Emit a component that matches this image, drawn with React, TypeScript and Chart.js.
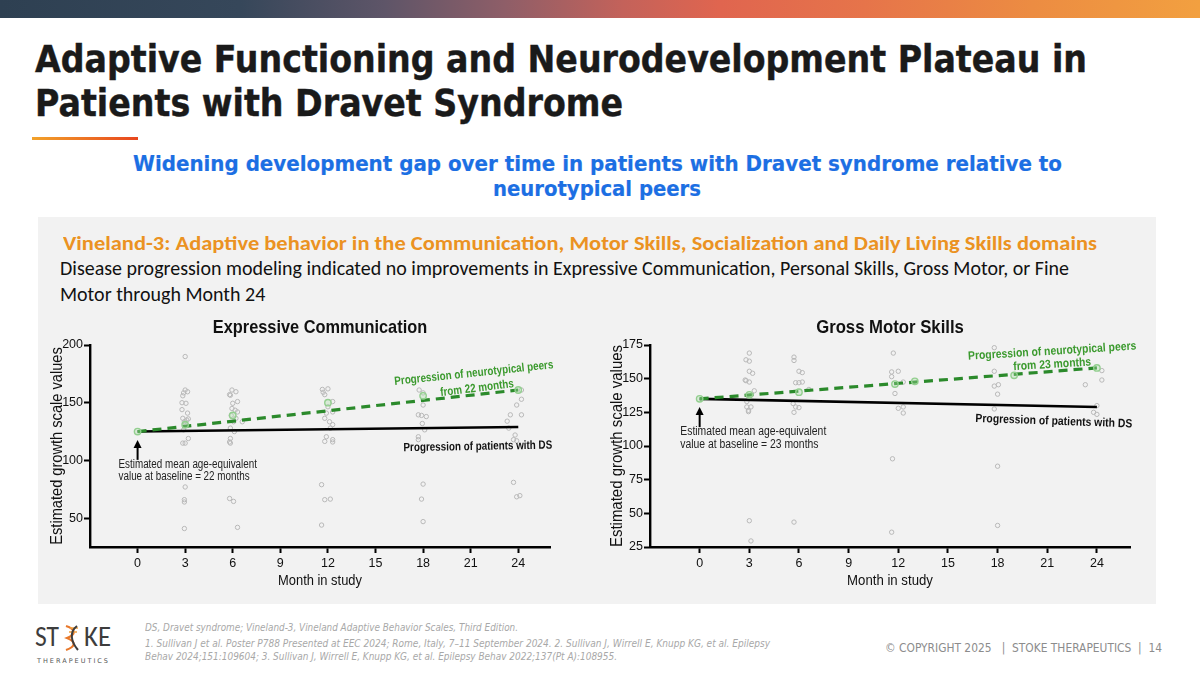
import React, { useEffect, useLayoutEffect, useRef } from "react";
import { Chart, registerables } from "chart.js";
Chart.register(...registerables);

// ---------- DATA ----------
const monthTicks = [0, 3, 6, 9, 12, 15, 18, 21, 24];
const ecYTicks = [50, 100, 150, 200];
const gmYTicks = [25, 50, 75, 100, 125, 150, 175];
const lineMonths = [0, 24];

const ecPeersLine = [125, 161];
const ecDSLine = [125, 129];
const gmPeersLine = [135, 158];
const gmDSLine = [135, 129];

const ecMeans: [number, number][] = [[0, 125], [3, 131], [6, 139], [12, 150], [18, 156], [24, 161]];
const gmMeans: [number, number][] = [[0, 135], [3, 138], [6, 140], [11.8, 146], [13, 148], [19, 152.5], [24, 158]];

const ecObserved: [number, number][] = [
  [3.0, 190], [3.0, 161], [3.15, 159.5], [2.9, 158.5], [2.85, 156], [2.8, 150], [3.05, 149.5], [2.8, 144], [3.15, 141], [2.85, 136.5], [3.1, 135], [2.95, 133.5], [3.2, 136], [3.0, 131], [2.9, 126.5], [3.2, 119], [2.85, 115], [3.0, 115], [3.0, 77], [2.95, 66], [2.95, 64], [2.95, 41],
  [5.95, 161], [6.2, 159.5], [5.8, 157], [5.85, 156.5], [6.3, 151], [6.0, 149.5], [5.95, 145], [6.15, 143.5], [6.3, 142], [5.9, 139], [6.2, 136.5], [6.05, 133.5], [6.6, 133.5], [5.85, 128], [6.1, 125], [5.85, 119], [5.8, 116], [5.85, 115], [5.8, 67], [6.05, 64.5], [6.3, 42],
  [11.65, 161.5], [12.0, 162], [11.7, 159], [11.8, 157], [12.3, 151], [12.0, 146.5], [12.3, 142], [11.9, 141], [11.8, 136.5], [12.1, 133.5], [12.3, 131], [12.15, 128], [11.9, 120.5], [12.3, 118], [11.8, 116.5], [12.3, 116], [11.6, 79], [11.8, 66], [12.15, 66.5], [11.6, 44],
  [17.75, 161], [18.0, 158.5], [18.0, 148], [17.7, 139.5], [17.9, 139], [18.2, 138], [17.95, 132], [18.1, 126.5], [17.7, 120.5], [17.7, 118], [18.0, 79.5], [17.9, 66.5], [18.0, 47],
  [24.2, 161], [24.2, 153], [23.9, 148], [23.5, 139.5], [24.2, 139.5], [23.3, 134], [23.4, 128], [23.8, 122], [23.7, 118], [23.9, 117], [23.7, 81], [23.9, 68.5], [24.1, 69.5],
];

const gmObserved: [number, number][] = [
  [3.0, 169], [2.8, 164], [3.0, 163], [3.0, 155.5], [3.2, 154], [2.75, 149], [2.8, 148.5], [3.0, 147.5], [3.3, 141], [2.85, 133], [2.85, 129], [3.1, 129], [2.95, 126.5], [2.95, 125.5], [3.0, 44.5], [3.1, 29.5],
  [5.7, 166], [5.7, 163.5], [6.0, 155.5], [6.2, 154.5], [5.8, 147], [6.0, 147], [6.2, 147.5], [6.6, 142], [5.65, 131.5], [5.8, 129], [6.0, 128.5], [5.7, 125], [5.7, 43.5],
  [11.7, 169], [11.6, 155], [12.0, 155.5], [11.6, 151.5], [12.3, 147.5], [11.8, 139], [12.0, 128], [12.3, 129], [12.3, 124.5], [11.65, 90.5], [11.6, 36],
  [17.8, 173], [17.8, 155.5], [17.8, 144.5], [18.05, 145.5], [18.0, 138.5], [17.8, 127.5], [18.0, 85], [18.0, 41],
  [23.3, 145.5], [24.3, 156], [24.3, 149], [24.0, 130], [23.8, 125], [24.0, 123.5],
];

// ---------- STYLE ----------
const ARIAL = '"Liberation Sans", Arial, sans-serif';
const TAHOMA = '"DejaVu Sans", Verdana, sans-serif';
const CALIBRI = 'Carlito, Lato, "Open Sans", sans-serif';
const GREEN_TXT = "#3b9a2e";

type Note = { text: string; x: number; y: number; color: string; bold?: boolean; rot?: number; align?: CanvasTextAlign };
type ChartSpec = {
  title: string;
  yMin: number; yMax: number; yTicks: number[];
  obs: [number, number][]; means: [number, number][];
  peers: number[]; ds: number[];
  notes: Note[];
  arrow: { x: number; from: number; to: number };
  padRight: number;
  sx: number; noteSx: number;
};

const toXY = (pts: [number, number][]) => pts.map(([x, y]) => ({ x, y }));
const lineXY = (vals: number[]) => vals.map((v, i) => ({ x: lineMonths[i], y: v }));

function squeezeText(ctx: CanvasRenderingContext2D, text: string, x: number, y: number, sx: number, rot = 0) {
  ctx.save();
  ctx.translate(x, y);
  if (rot) ctx.rotate(rot);
  ctx.scale(sx, 1);
  ctx.fillText(text, 0, 0);
  ctx.restore();
}

function makeAnnot(c: ChartSpec) {
  return {
    id: "annot",
    afterDatasetsDraw(chart: any) {
      const { ctx, chartArea } = chart;
      const xs = chart.scales.x, ys = chart.scales.y;
      const cx = (chartArea.left + chartArea.right) / 2;
      const cy = (chartArea.top + chartArea.bottom) / 2;
      ctx.save();
      ctx.fillStyle = "#111";
      ctx.textAlign = "center";
      ctx.textBaseline = "middle";
      ctx.font = `bold 19px ${ARIAL}`;
      squeezeText(ctx, c.title, cx, chartArea.top - 17, c.sx);
      ctx.font = `15px ${ARIAL}`;
      squeezeText(ctx, "Month in study", cx, 271, c.sx);
      ctx.font = `17px ${ARIAL}`;
      squeezeText(ctx, "Estimated growth scale values", 17, cy, c.sx, -Math.PI / 2);
      for (const n of c.notes) {
        ctx.font = `${n.bold ? "bold " : ""}12px ${ARIAL}`;
        ctx.fillStyle = n.color;
        ctx.textAlign = n.align || "center";
        ctx.textBaseline = "middle";
        squeezeText(ctx, n.text, xs.getPixelForValue(n.x), ys.getPixelForValue(n.y), c.noteSx, ((n.rot || 0) * Math.PI) / 180);
      }
      const ax = xs.getPixelForValue(c.arrow.x);
      const y1 = ys.getPixelForValue(c.arrow.from);
      const y2 = ys.getPixelForValue(c.arrow.to);
      ctx.strokeStyle = "#000";
      ctx.lineWidth = 2;
      ctx.beginPath();
      ctx.moveTo(ax, y1);
      ctx.lineTo(ax, y2 + 6);
      ctx.stroke();
      ctx.fillStyle = "#000";
      ctx.beginPath();
      ctx.moveTo(ax, y2);
      ctx.lineTo(ax - 4, y2 + 8);
      ctx.lineTo(ax + 4, y2 + 8);
      ctx.closePath();
      ctx.fill();
      ctx.restore();
    },
  };
}

function buildConfig(c: ChartSpec): any {
  const axisCommon = {
    type: "linear",
    grid: { display: true, drawOnChartArea: false, drawTicks: true, tickLength: 6, tickWidth: 2, tickColor: "#000" },
    border: { display: true, color: "#000", width: 2.4 },
  };
  return {
    type: "scatter",
    data: {
      datasets: [
        { data: toXY(c.means), pointRadius: 3.2, pointBorderWidth: 1.4, pointBorderColor: "#93cf8f", pointBackgroundColor: "rgba(170,220,165,0.35)" },
        { data: lineXY(c.peers), showLine: true, borderColor: "#2b8a2b", borderWidth: 3.2, borderDash: [9, 6], pointRadius: 0 },
        { data: lineXY(c.ds), showLine: true, borderColor: "#000", borderWidth: 2.6, pointRadius: 0 },
        { data: toXY(c.obs), pointRadius: 2.2, pointBorderWidth: 1, pointBorderColor: "#b8b8b8", pointBackgroundColor: "rgba(0,0,0,0)" },
      ],
    },
    options: {
      responsive: false,
      animation: false,
      devicePixelRatio: 1,
      layout: { padding: { top: 35, right: c.padRight, left: 0, bottom: 0 } },
      plugins: { legend: { display: false }, tooltip: { enabled: false } },
      scales: {
        x: {
          ...axisCommon,
          min: -3,
          max: 26,
          afterBuildTicks: (s: any) => { s.ticks = monthTicks.map((v) => ({ value: v })); },
          afterFit: (s: any) => { s.height = 53; },
          ticks: { color: "#111", font: { family: ARIAL, size: 12.5 }, padding: 3, maxRotation: 0, autoSkip: false },
        },
        y: {
          ...axisCommon,
          min: c.yMin,
          max: c.yMax,
          afterBuildTicks: (s: any) => { s.ticks = c.yTicks.map((v) => ({ value: v })); },
          afterFit: (s: any) => { s.width = 50; },
          ticks: { color: "#111", font: { family: ARIAL, size: 12.5 }, padding: 1, autoSkip: false },
        },
      },
    },
    plugins: [makeAnnot(c)],
  };
}

const ecSpec: ChartSpec = {
  title: "Expressive Communication",
  yMin: 25, yMax: 200, yTicks: ecYTicks,
  obs: ecObserved, means: ecMeans, peers: ecPeersLine, ds: ecDSLine,
  notes: [
    { text: "Progression of neurotypical peers", x: 21.2, y: 175.5, color: GREEN_TXT, bold: true, rot: -6 },
    { text: "from 22 months", x: 21.4, y: 162.5, color: GREEN_TXT, bold: true, rot: -7 },
    { text: "Progression of patients with DS", x: 21.45, y: 112, color: "#111", bold: true, rot: -1 },
    { text: "Estimated mean age-equivalent", x: -1.2, y: 96.2, color: "#222", align: "left" },
    { text: "value at baseline = 22 months", x: -1.2, y: 86.1, color: "#222", align: "left" },
  ],
  arrow: { x: 0, from: 100.5, to: 117.8 },
  padRight: 10,
  sx: 0.86, noteSx: 0.82,
};

const gmSpec: ChartSpec = {
  title: "Gross Motor Skills",
  yMin: 25, yMax: 175, yTicks: gmYTicks,
  obs: gmObserved, means: gmMeans, peers: gmPeersLine, ds: gmDSLine,
  notes: [
    { text: "Progression of neurotypical peers", x: 21.3, y: 170.3, color: GREEN_TXT, bold: true, rot: -3.5 },
    { text: "from 23 months", x: 21.3, y: 160.5, color: GREEN_TXT, bold: true, rot: -3.5 },
    { text: "Progression of patients with DS", x: 21.4, y: 118.3, color: "#111", bold: true, rot: 2 },
    { text: "Estimated mean age-equivalent", x: -1.17, y: 110.4, color: "#222", align: "left" },
    { text: "value at baseline = 23 months", x: -1.17, y: 101.2, color: "#222", align: "left" },
  ],
  arrow: { x: 0, from: 114, to: 128.9 },
  padRight: 30,
  sx: 0.88, noteSx: 0.865,
};

function ChartBox({ spec, left, top, width, height }: { spec: ChartSpec; left: number; top: number; width: number; height: number }) {
  const ref = useRef<HTMLCanvasElement>(null);
  useEffect(() => {
    const chart = new Chart(ref.current as HTMLCanvasElement, buildConfig(spec));
    return () => chart.destroy();
  }, [spec]);
  return <canvas ref={ref} width={width} height={height} style={{ position: "absolute", left, top, width, height }} />;
}

type TProps = {
  x: number; base: number; w: number; size: number; family: string;
  weight?: number | string; italic?: boolean; color: string; lh?: number;
  anchor?: "start" | "middle" | "end"; ratio?: number; ls?: number; stroke?: number; children: React.ReactNode;
};
function T(p: TProps) {
  const ref = useRef<HTMLDivElement>(null);
  useLayoutEffect(() => {
    const el = ref.current;
    if (!el) return;
    el.style.transform = "none";
    const w = el.getBoundingClientRect().width;
    if (w > 0) el.style.transform = `scaleX(${p.w / w})`;
  });
  const lh = p.lh ?? p.size;
  const left = p.anchor === "middle" ? p.x - p.w / 2 : p.anchor === "end" ? p.x - p.w : p.x;
  const top = p.base - (p.ratio ?? 0.85) * p.size - (lh - p.size) / 2;
  return (
    <div
      ref={ref}
      style={{
        position: "absolute", left, top, fontSize: p.size, lineHeight: `${lh}px`, fontFamily: p.family,
        fontWeight: p.weight ?? 400, fontStyle: p.italic ? "italic" : "normal", color: p.color,
        whiteSpace: "pre", transformOrigin: "0 0", letterSpacing: p.ls,
        WebkitTextStroke: p.stroke ? `${p.stroke}px ${p.color}` : undefined,
      }}
    >
      {p.children}
    </div>
  );
}

export default function App() {
  return (
    <div style={{ position: "absolute", left: 0, top: 0, width: 1200, height: 675, background: "#fff", overflow: "hidden" }}>
      <div style={{ position: "absolute", left: 0, top: 0, width: 1200, height: 18, background: "linear-gradient(90deg, #2e4052 0%, #36475a 20%, #5e5568 32%, #8e5e68 42%, #c4625a 52%, #e0654f 60%, #e6744a 72%, #ec8c42 86%, #f2a040 100%)" }} />

      <T x={35} base={72} w={1052} size={37} family={TAHOMA} weight={700} color="#1a1a1a" stroke={0.45}>Adaptive Functioning and Neurodevelopment Plateau in</T>
      <T x={35} base={116} w={588} size={37} family={TAHOMA} weight={700} color="#1a1a1a" stroke={0.45}>Patients with Dravet Syndrome</T>
      <div style={{ position: "absolute", left: 32, top: 137, width: 106, height: 3, background: "linear-gradient(90deg, #f2a22a, #e8461e)" }} />

      <T x={597} base={172} w={929} size={21} family={TAHOMA} weight={700} color="#1c6fe3" anchor="middle" stroke={0.2}>Widening development gap over time in patients with Dravet syndrome relative to</T>
      <T x={597} base={197} w={208} size={21} family={TAHOMA} weight={700} color="#1c6fe3" anchor="middle" stroke={0.2}>neurotypical peers</T>

      <div style={{ position: "absolute", left: 38, top: 217, width: 1118, height: 387, background: "#f2f2f2" }} />
      <T x={63} base={251} w={1034} size={21} family={CALIBRI} weight={700} color="#eb9222" ratio={0.88}>Vineland-3: Adaptive behavior in the Communication, Motor Skills, Socialization and Daily Living Skills domains</T>
      <T x={60} base={276} w={1009} size={21} lh={26} family={CALIBRI} color="#111" ratio={0.88}>
        {"Disease progression modeling indicated no improvements in Expressive Communication, Personal Skills, Gross Motor, or Fine"}
        <br />
        {"Motor through Month 24"}
      </T>

      <ChartBox spec={ecSpec} left={40} top={310} width={520} height={290} />
      <ChartBox spec={gmSpec} left={600} top={310} width={560} height={290} />

      {/* footer logo */}
      <T x={35} base={648} w={24} size={29} family={CALIBRI} weight={400} color="#3d3d3d" ratio={0.88}>ST</T>
      <svg style={{ position: "absolute", left: 61, top: 624 }} width={22} height={28} viewBox="0 0 22 28">
        <path d="M5 2 C14 5, 16 10, 6 14 C16 18, 14 23, 5 26" fill="none" stroke="#e8782a" strokeWidth={2.2} />
        <path d="M9 4 L17 4 M8 8 L16 8" stroke="#f0a040" strokeWidth={1.5} />
        <path d="M16 2 C8 8, 10 18, 17 26" fill="none" stroke="#3d3d3d" strokeWidth={2} />
      </svg>
      <T x={84} base={648} w={27} size={29} family={CALIBRI} weight={400} color="#3d3d3d" ratio={0.88}>KE</T>
      <T x={37} base={664} w={73} size={6.5} family={TAHOMA} color="#555" ls={2}>THERAPEUTICS</T>

      <T x={145} base={631} w={373} size={11} family={TAHOMA} italic color="#a8a8a8">DS, Dravet syndrome; Vineland-3, Vineland Adaptive Behavior Scales, Third Edition.</T>
      <T x={145} base={647} w={625} size={11} family={TAHOMA} italic color="#a8a8a8">1. Sullivan J et al. Poster P788 Presented at EEC 2024; Rome, Italy, 7–11 September 2024. 2. Sullivan J, Wirrell E, Knupp KG, et al. Epilepsy</T>
      <T x={145} base={660} w={472} size={11} family={TAHOMA} italic color="#a8a8a8">Behav 2024;151:109604; 3. Sullivan J, Wirrell E, Knupp KG, et al. Epilepsy Behav 2022;137(Pt A):108955.</T>
      <T x={885} base={652} w={277} size={12} family={TAHOMA} color="#8c8c8c">© COPYRIGHT 2025   |  STOKE THERAPEUTICS  |  14</T>
    </div>
  );
}
